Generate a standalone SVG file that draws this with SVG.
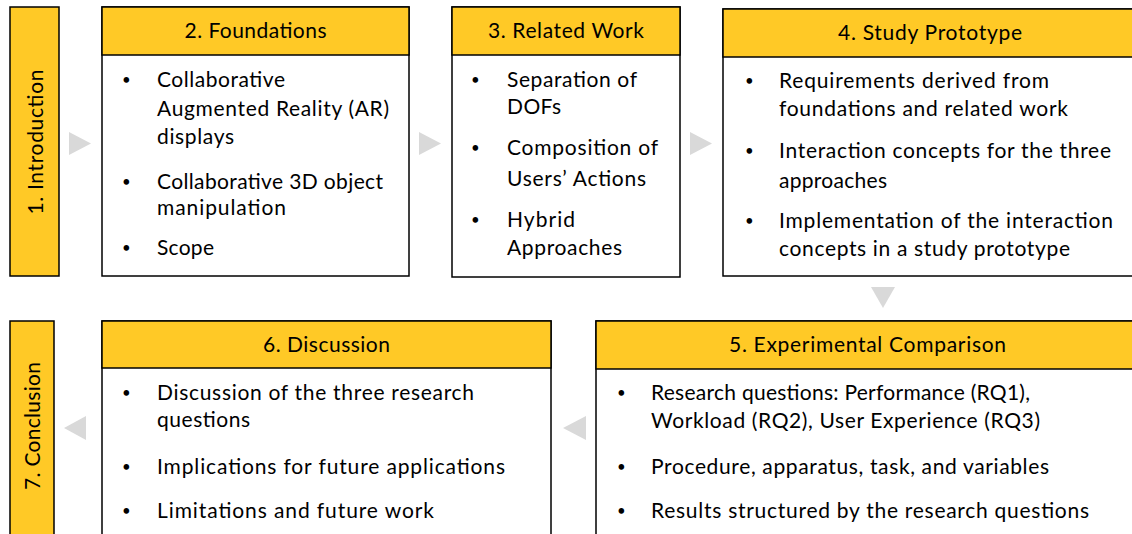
<svg xmlns="http://www.w3.org/2000/svg" width="1132" height="534" viewBox="0 0 1132 534">
<style>
.box{fill:#fff;stroke:#000;stroke-width:1.5}
.hdr{fill:#FFC926;stroke:#000;stroke-width:1.5}
.t{font-family:Lato,"Open Sans",sans-serif;font-size:21px;fill:#000}
.b{font-family:Lato,"Open Sans",sans-serif;font-size:15px;fill:#000}
.h{font-family:Lato,"Open Sans",sans-serif;font-size:21px;fill:#000;text-anchor:middle}
.arr{fill:#D9D9D9}
</style>
<g id="connectors">
<polygon class="arr" points="69,132 91,143.5 69,155"/>
<polygon class="arr" points="419,132 441,143.5 419,155"/>
<polygon class="arr" points="690,132 712,143.5 690,155"/>
<polygon class="arr" points="871,287 895,287 883,308"/>
<polygon class="arr" points="586,416 586,440 563,428"/>
<polygon class="arr" points="86,416 86,440 64,428"/>
</g>
<g id="n1">
<rect class="hdr" x="10" y="7" width="49" height="269"/>
<text class="h" transform="translate(43,142) rotate(-90)" textLength="145" lengthAdjust="spacing">1. Introduction</text>
</g>
<g id="n2">
<rect class="box" x="102" y="7" width="307" height="269"/>
<rect class="hdr" x="102" y="7" width="307" height="48"/>
<text class="h" x="255.5" y="38" textLength="142" lengthAdjust="spacing">2. Foundations</text>
<text class="b" x="122" y="85">•</text>
<text class="t" x="157" y="87" textLength="128" lengthAdjust="spacing">Collaborative</text>
<text class="t" x="157" y="116" textLength="232" lengthAdjust="spacing">Augmented Reality (AR)</text>
<text class="t" x="157" y="144" textLength="77" lengthAdjust="spacing">displays</text>
<text class="b" x="122" y="187">•</text>
<text class="t" x="157" y="189" textLength="226" lengthAdjust="spacing">Collaborative 3D object</text>
<text class="t" x="157" y="215" textLength="129" lengthAdjust="spacing">manipulation</text>
<text class="b" x="122" y="253">•</text>
<text class="t" x="157" y="255" textLength="57" lengthAdjust="spacing">Scope</text>
</g>
<g id="n3">
<rect class="box" x="452" y="7" width="228" height="270"/>
<rect class="hdr" x="452" y="7" width="228" height="48"/>
<text class="h" x="566" y="38" textLength="156" lengthAdjust="spacing">3. Related Work</text>
<text class="b" x="471" y="85">•</text>
<text class="t" x="507" y="87" textLength="130" lengthAdjust="spacing">Separation of</text>
<text class="t" x="507" y="114" textLength="54" lengthAdjust="spacing">DOFs</text>
<text class="b" x="471" y="153">•</text>
<text class="t" x="507" y="155" textLength="151" lengthAdjust="spacing">Composition of</text>
<text class="t" x="507" y="186" textLength="139" lengthAdjust="spacing">Users’ Actions</text>
<text class="b" x="471" y="225">•</text>
<text class="t" x="507" y="227" textLength="68" lengthAdjust="spacing">Hybrid</text>
<text class="t" x="507" y="255" textLength="115" lengthAdjust="spacing">Approaches</text>
</g>
<g id="n4">
<rect class="box" x="723" y="9" width="412" height="267"/>
<rect class="hdr" x="723" y="9" width="412" height="48"/>
<text class="h" x="930" y="40" textLength="184" lengthAdjust="spacing">4. Study Prototype</text>
<text class="b" x="745" y="86">•</text>
<text class="t" x="779" y="88" textLength="270" lengthAdjust="spacing">Requirements derived from</text>
<text class="t" x="779" y="116" textLength="289" lengthAdjust="spacing">foundations and related work</text>
<text class="b" x="745" y="156">•</text>
<text class="t" x="779" y="158" textLength="332" lengthAdjust="spacing">Interaction concepts for the three</text>
<text class="t" x="779" y="188" textLength="108" lengthAdjust="spacing">approaches</text>
<text class="b" x="745" y="226">•</text>
<text class="t" x="779" y="228" textLength="334" lengthAdjust="spacing">Implementation of the interaction</text>
<text class="t" x="779" y="256" textLength="291" lengthAdjust="spacing">concepts in a study prototype</text>
</g>
<g id="n5">
<rect class="box" x="596" y="321" width="540" height="220"/>
<rect class="hdr" x="596" y="321" width="540" height="48"/>
<text class="h" x="867.5" y="352" textLength="277" lengthAdjust="spacing">5. Experimental Comparison</text>
<text class="b" x="617" y="398">•</text>
<text class="t" x="651" y="400" textLength="379" lengthAdjust="spacing">Research questions: Performance (RQ1),</text>
<text class="t" x="651" y="428" textLength="389" lengthAdjust="spacing">Workload (RQ2), User Experience (RQ3)</text>
<text class="b" x="617" y="472">•</text>
<text class="t" x="651" y="474" textLength="398" lengthAdjust="spacing">Procedure, apparatus, task, and variables</text>
<text class="b" x="617" y="516">•</text>
<text class="t" x="651" y="518" textLength="438" lengthAdjust="spacing">Results structured by the research questions</text>
</g>
<g id="n6">
<rect class="box" x="102" y="321" width="449" height="220"/>
<rect class="hdr" x="102" y="321" width="449" height="47"/>
<text class="h" x="326.5" y="352" textLength="127" lengthAdjust="spacing">6. Discussion</text>
<text class="b" x="122" y="398">•</text>
<text class="t" x="157" y="400" textLength="317" lengthAdjust="spacing">Discussion of the three research</text>
<text class="t" x="157" y="427" textLength="93" lengthAdjust="spacing">questions</text>
<text class="b" x="122" y="472">•</text>
<text class="t" x="157" y="474" textLength="348" lengthAdjust="spacing">Implications for future applications</text>
<text class="b" x="122" y="516">•</text>
<text class="t" x="157" y="518" textLength="277" lengthAdjust="spacing">Limitations and future work</text>
</g>
<g id="n7">
<rect class="hdr" x="10" y="321" width="44" height="220"/>
<text class="h" transform="translate(40,426) rotate(-90)" textLength="128" lengthAdjust="spacing">7. Conclusion</text>
</g>
</svg>
